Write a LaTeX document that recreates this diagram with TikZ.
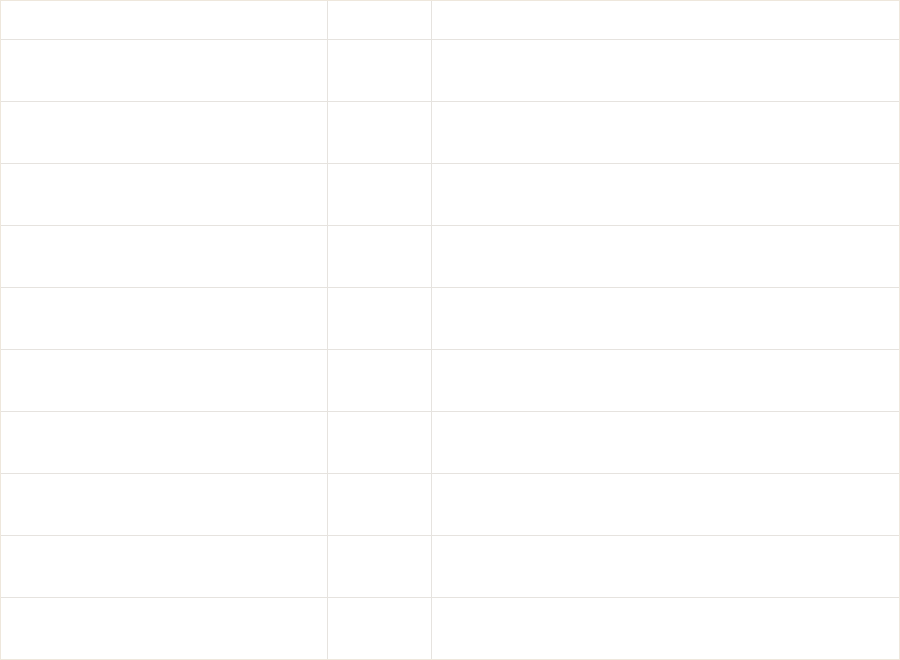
\documentclass[tikz,border=0pt]{standalone}
\usepackage{tikz}
\definecolor{rulecol}{RGB}{230,227,223}
\definecolor{framecol}{RGB}{238,231,220}

\begin{document}
\begin{tikzpicture}[x=1pt,y=-1pt]
    \useasboundingbox[fill=white] (0,0) rectangle (900,660);
    % rows =================================================
    \foreach \y in {39,101,163,225,287,349,411,473,535,597} {
        \draw[rulecol,line width=1pt] (0,\y+0.5) -- (900,\y+0.5);
    }
    % columns ==============================================
    \draw[rulecol,line width=1.5pt] (327.5,0) -- (327.5,660);
    \draw[rulecol,line width=1.5pt] (431.5,0) -- (431.5,660);
    % frame
    \draw[framecol,line width=1pt] (0.5,0.5) rectangle (899.5,659.5);
\end{tikzpicture}
\end{document}
